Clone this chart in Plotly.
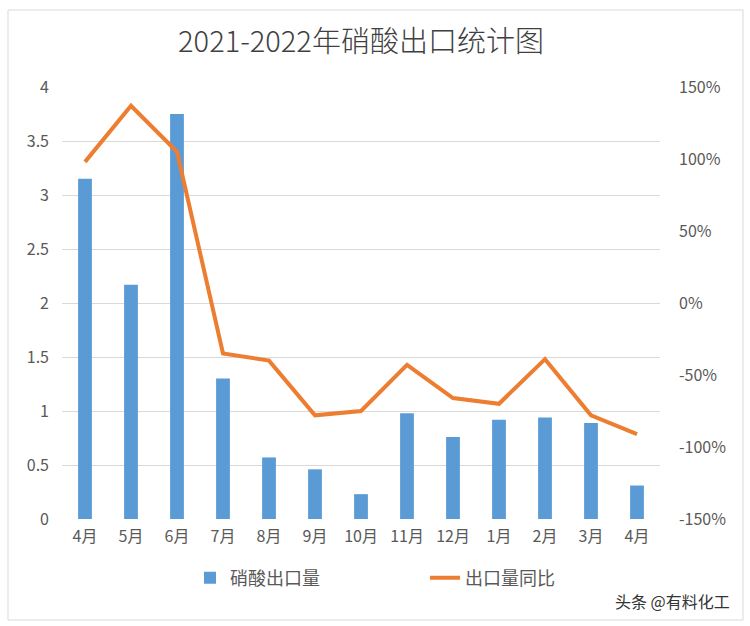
import plotly.graph_objects as go

months = ["4月", "5月", "6月", "7月", "8月", "9月", "10月", "11月", "12月", "1月", "2月", "3月", "4月"]
export_volume = [3.15, 2.17, 3.75, 1.30, 0.57, 0.46, 0.23, 0.98, 0.76, 0.92, 0.94, 0.89, 0.31]
yoy_pct = [98, 137, 105, -35, -40, -78, -75, -43, -66, -70, -39, -78, -91]
left_ticks = [0, 0.5, 1, 1.5, 2, 2.5, 3, 3.5, 4]
left_tick_text = ["0", "0.5", "1", "1.5", "2", "2.5", "3", "3.5", "4"]
right_ticks = [-150, -100, -50, 0, 50, 100, 150]
right_tick_text = ["-150%", "-100%", "-50%", "0%", "50%", "100%", "150%"]

x = list(range(len(months)))
FONT = "Noto Sans CJK SC, Noto Sans, sans-serif"
GREY = "#595959"

fig = go.Figure()
fig.add_trace(go.Bar(x=x, y=export_volume, name="硝酸出口量", marker=dict(color="#5B9BD5", line=dict(width=0)),
                     yaxis="y"))
fig.add_trace(go.Scatter(x=x, y=yoy_pct, name="出口量同比", mode="lines",
                         line=dict(color="#ED7D31", width=4), yaxis="y2"))

L, R, T, B = 62, 90, 87, 107
W, H = 750, 626
pw, ph = W - L - R, H - T - B

def px(xp):
    return (xp - L) / pw

def py(yp):
    return (H - B - yp) / ph

fig.update_layout(
    width=W, height=H,
    margin=dict(l=L, r=R, t=T, b=B),
    paper_bgcolor="white", plot_bgcolor="white",
    font=dict(family=FONT, color=GREY, size=15),
    title=dict(text="2021-2022年硝酸出口统计图", x=0.5, xref="paper", xanchor="center",
               y=1 - 42 / H, yanchor="middle",
               font=dict(size=29, color="#404040", family=FONT, weight=300)),
    bargap=0.7,
    showlegend=True,
    legend=dict(orientation="h", x=px(190), xanchor="left", y=py(578), yanchor="middle",
                font=dict(size=18, color=GREY), entrywidth=190, entrywidthmode="pixels",
                bgcolor="rgba(0,0,0,0)"),
    xaxis=dict(tickvals=x, ticktext=months, range=[-0.5, len(months) - 0.5], showgrid=False,
               showline=False, zeroline=False, tickfont=dict(size=16, color=GREY), ticks="",
               ticklabelstandoff=6),
    yaxis=dict(range=[0, 4], tickvals=left_ticks, ticktext=left_tick_text, showgrid=True,
               gridcolor="#D9D9D9", gridwidth=1, zeroline=False, showline=False,
               tickfont=dict(size=16, color=GREY), ticklabelstandoff=12),
    yaxis2=dict(range=[-150, 150], tickvals=right_ticks, ticktext=right_tick_text, overlaying="y",
                side="right", showgrid=False, zeroline=False, showline=False,
                tickfont=dict(size=16, color=GREY), ticklabelstandoff=18),
    shapes=[dict(type="rect", xref="paper", yref="paper", x0=px(8), x1=px(743), y0=py(620), y1=py(10),
                 line=dict(color="#D9D9D9", width=1), fillcolor="rgba(0,0,0,0)", layer="below")],
    annotations=[dict(text="头条 @有料化工", xref="paper", yref="paper", x=px(732), y=py(601),
                      xanchor="right", yanchor="middle", showarrow=False,
                      font=dict(size=16, color="#333333", family=FONT))],
)

fig.write_html("out.html")
